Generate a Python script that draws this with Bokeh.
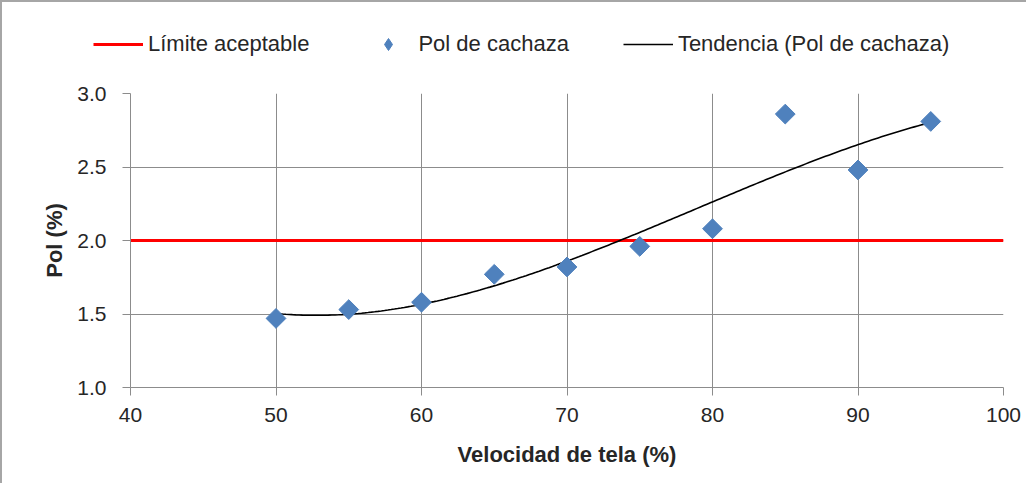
import numpy as np
from bokeh.plotting import figure
from bokeh.models import (Range1d, SingleIntervalTicker, NumeralTickFormatter, Legend)
from bokeh.embed import file_html
from bokeh.resources import INLINE

# ---- data ----
velocidad = [50, 55, 60, 65, 70, 75, 80, 85, 90, 95]
pol = [1.47, 1.53, 1.58, 1.77, 1.82, 1.96, 2.08, 2.86, 2.48, 2.81]
limite = 2.0
x_min, x_max = 40, 100
y_min, y_max = 1.0, 3.0
labels = ["Límite aceptable", "Pol de cachaza", "Tendencia (Pol de cachaza)"]

# polynomial trendline (order 3) fitted to the data, as in the spreadsheet
coef = np.polyfit(velocidad, pol, 3)
trend_x = np.linspace(min(velocidad), max(velocidad), 200)
trend_y = np.polyval(coef, trend_x)

FONT = "Liberation Sans"
TXT = "#262626"
GRID = "#8c8c8c"
RED = "#ff0000"
BLUE = "#4f81bd"
EDGE = "2px solid #a6a6a6"

LEG_H = 70

# ---- legend strip (separate root, its frame spans the whole strip) ----
leg = figure(width=1026, height=LEG_H, output_backend="svg", toolbar_location=None,
             x_range=Range1d(0, 1), y_range=Range1d(0, 1),
             x_axis_type=None, y_axis_type=None, min_border=0,
             background_fill_color="white", border_fill_color="white")
leg.outline_line_color = None
leg.xgrid.visible = False
leg.ygrid.visible = False
leg.styles = {"border-top": EDGE, "border-left": EDGE}
# renderers only used for the legend swatches (their data lie outside this strip's range)
l1 = leg.line([x_min, x_max], [limite, limite], line_color=RED, line_width=3)
l2 = leg.scatter(velocidad, pol, marker="diamond", size=14,
                 fill_color=BLUE, line_color=BLUE)
l3 = leg.line(trend_x, trend_y, line_color="black", line_width=1.6)
legend = Legend(items=[(labels[0], [l1]), (labels[1], [l2]), (labels[2], [l3])],
                orientation="horizontal", location=(91, 13),
                border_line_color=None, background_fill_alpha=0,
                padding=0, margin=0, spacing=54, glyph_width=50, glyph_height=30,
                label_standoff=5, label_text_font=FONT, label_text_font_size="22px",
                label_text_color=TXT)
leg.add_layout(legend, "center")

# ---- main chart ----
p = figure(width=1026, height=413, output_backend="svg", toolbar_location=None,
           x_range=Range1d(x_min, x_max), y_range=Range1d(y_min, y_max),
           min_border_left=128, min_border_right=25, min_border_top=23,
           min_border_bottom=96, background_fill_color="white",
           border_fill_color="white")
p.outline_line_color = None
p.styles = {"border-left": EDGE}

p.xaxis.ticker = SingleIntervalTicker(interval=10)
p.yaxis.ticker = SingleIntervalTicker(interval=0.5)
p.yaxis.formatter = NumeralTickFormatter(format="0.0")
for ax in (p.xaxis[0], p.yaxis[0]):
    ax.axis_line_color = GRID
    ax.axis_line_width = 1
    ax.major_tick_line_color = GRID
    ax.major_tick_out = 8
    ax.major_tick_in = 0
    ax.minor_tick_line_color = None
    ax.major_label_text_font = FONT
    ax.major_label_text_font_size = "21px"
    ax.major_label_text_color = TXT
    ax.axis_label_text_font = FONT
    ax.axis_label_text_font_size = "22px"
    ax.axis_label_text_font_style = "bold"
    ax.axis_label_text_color = TXT
p.xaxis.axis_label = "Velocidad de tela (%)"
p.yaxis.axis_label = "Pol (%)"
p.xaxis.major_label_standoff = 12
p.yaxis.major_label_standoff = 16
p.xaxis.axis_label_standoff = 17
p.yaxis.axis_label_standoff = 7

p.xgrid.grid_line_color = GRID
p.ygrid.grid_line_color = GRID

p.line([x_min, x_max], [limite, limite], line_color=RED, line_width=3)
p.line(trend_x, trend_y, line_color="black", line_width=1.6)
p.scatter(velocidad, pol, marker="square", angle=np.pi / 4, size=14,
          fill_color=BLUE, line_color=BLUE)

open("out.html", "w").write(file_html([leg, p], INLINE))
